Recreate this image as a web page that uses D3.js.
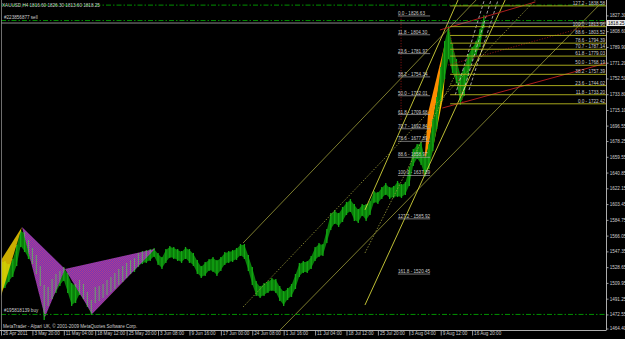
<!DOCTYPE html>
<html>
<head>
<meta charset="UTF-8">
<title>XAUUSD,H4</title>
<script src="https://cdnjs.cloudflare.com/ajax/libs/d3/7.8.5/d3.min.js"></script>
<style>
    html, body { margin: 0; padding: 0; background: #000; }
    svg { display: block; }
    text { font-family: "Liberation Sans", Arial, sans-serif; font-size: 4.6px; fill: #cdcdcd; }
</style>
</head>
<body>
<svg id="chart" width="625" height="339"></svg>
<script>
// H4 bars, one sample every 4 bars (high / low of the sample)
var barHigh = [
    1534.8, 1534.8, 1531.2, 1537.1, 1553.7, 1571.5, 1569.2, 1559.7, 1550.2, 1541.9,
    1528.8, 1506.3, 1503.9, 1513.4, 1519.3, 1522.9, 1527.6, 1520.5, 1508.7, 1507.5,
    1512.2, 1507.5, 1498.0, 1488.5, 1503.9, 1505.1, 1507.5, 1512.2, 1515.8, 1520.5,
    1525.3, 1528.8, 1532.4, 1535.9, 1538.3, 1544.3, 1546.6, 1547.8, 1549.0, 1550.2,
    1544.3, 1539.5, 1549.0, 1552.6, 1551.4, 1549.0, 1546.6, 1551.4, 1549.0, 1544.3,
    1535.9, 1528.8, 1533.6, 1537.1, 1539.5, 1535.9, 1539.5, 1545.4, 1546.6, 1547.8,
    1550.2, 1554.9, 1554.9, 1541.9, 1527.6, 1511.0, 1505.1, 1508.7, 1511.0, 1514.6,
    1513.4, 1505.1, 1499.2, 1502.7, 1507.5, 1519.3, 1532.4, 1534.8, 1534.8, 1540.7,
    1551.4, 1556.1, 1554.9, 1572.7, 1591.7, 1595.3, 1591.7, 1598.8, 1604.8, 1608.3,
    1602.4, 1596.5, 1602.4, 1602.4, 1605.9, 1617.8, 1616.6, 1622.5, 1627.3, 1622.5,
    1623.7, 1629.7, 1626.1, 1628.5, 1646.3, 1667.6, 1673.6, 1675.9, 1658.1, 1673.6,
    1703.2, 1729.3, 1764.9, 1795.7, 1813.96, 1792.2, 1774.4, 1756.6, 1764.9, 1780.3,
    1788.6, 1795.7, 1810.0, 1826.3
];
var barLow = [
    1501.5, 1505.1, 1512.2, 1518.2, 1531.2, 1553.7, 1547.8, 1539.5, 1533.6, 1521.7,
    1507.5, 1467.0, 1483.7, 1492.0, 1499.2, 1507.5, 1513.4, 1499.2, 1483.7, 1487.3,
    1496.8, 1492.0, 1482.5, 1473.1, 1487.3, 1489.7, 1493.2, 1496.8, 1500.3, 1503.9,
    1508.7, 1512.2, 1517.0, 1521.7, 1524.1, 1530.0, 1533.6, 1534.8, 1537.1, 1541.9,
    1532.4, 1527.6, 1534.8, 1540.7, 1539.5, 1537.1, 1534.8, 1539.5, 1534.8, 1531.2,
    1521.7, 1517.0, 1519.3, 1525.3, 1524.1, 1519.3, 1525.3, 1532.4, 1534.8, 1535.9,
    1538.3, 1543.1, 1539.5, 1525.3, 1508.7, 1495.6, 1493.2, 1495.6, 1499.2, 1501.5,
    1499.2, 1489.7, 1483.7, 1490.8, 1494.4, 1503.9, 1518.2, 1522.9, 1522.9, 1527.6,
    1537.1, 1541.9, 1543.1, 1558.5, 1573.9, 1581.0, 1577.5, 1583.4, 1591.7, 1595.3,
    1584.6, 1582.2, 1590.5, 1584.6, 1591.7, 1605.9, 1604.8, 1610.7, 1615.4, 1610.7,
    1611.9, 1613.0, 1611.9, 1615.4, 1626.1, 1649.8, 1658.1, 1651.0, 1637.4, 1646.3,
    1667.6, 1693.7, 1726.9, 1753.0, 1776.7, 1760.1, 1748.3, 1722.4, 1732.9, 1756.6,
    1774.4, 1781.5, 1791.0, 1813.6
];

// time axis (sample index of each label)
var timeTicks = [0, 8, 16, 24, 32, 40, 48, 56, 64, 72, 80, 88, 96, 104, 112, 120];
var timeLabels = ["26 Apr 2011", "3 May 20:00", "11 May 04:00", "18 May 12:00", "25 May 20:00",
    "3 Jun 08:00", "9 Jun 16:00", "17 Jun 00:00", "24 Jun 08:00", "1 Jul 16:00", "11 Jul 04:00",
    "18 Jul 12:00", "25 Jul 20:00", "3 Aug 04:00", "9 Aug 12:00", "16 Aug 20:00"];

// price axis
var priceTicks = [1827.30, 1808.60, 1789.90, 1771.20, 1752.50, 1733.80, 1715.10, 1696.55, 1678.25,
    1659.55, 1640.85, 1622.15, 1603.45, 1584.75, 1566.05, 1547.35, 1528.65, 1509.95, 1491.25, 1472.55];
var priceMin = 1464.40;
var bidPrice = 1818.25;
var header = "XAUUSD,H4  1816.60 1826.30 1813.60 1818.25";

// harmonic pattern points [sample, price]
var purplePts = [[5.35, 1576.3], [11.2, 1469.5], [16.3, 1526.5], [23.2, 1473.1], [39.2, 1550.2]];
var yellowTri = [[-0.4, 1534.0], [-0.4, 1488.0], [5.35, 1576.3]];
var orangeTri = [[107.5, 1634.4], [114.1, 1813.5], [108.8, 1712.0]];
var yellowTri2 = [[109.6, 1660.0], [114.1, 1813.5], [112.6, 1730.0]];

// trend lines [s1, p1, s2, p2]
var oliveLines = [[61.66, 1557.3, 121.0, 1845.5], [71.1, 1454.1, 152.6, 1840.8]];
var oliveDotted = [[61.66, 1481.4, 136.1, 1845.5], [92.7, 1545.4, 115.7, 1756.6]];
var yellowLines = [[92.7, 1483.7, 128.4, 1845.5], [92.7, 1596.5, 116.4, 1845.5]];
var grayDashed = [[115.7, 1732.9, 123.1, 1845.5], [117.5, 1732.9, 124.8, 1845.5], [119.2, 1738.8, 126.6, 1845.5]];
var redLines = [[111.8, 1810.0, 136.1, 1843.2], [112.4, 1717.4, 155.2, 1772.0]];
var redDotted = [[113.9, 1768.4, 155.2, 1821.8], [101.9, 1826.6, 101.9, 1703.2], [114.1, 1813.5, 117.7, 1722.2]];

// fibonacci retracements
var fibLeftLevels = [0.0, 11.8, 23.6, 38.2, 50.0, 61.8, 70.7, 78.6, 88.6, 100.0, 127.2, 161.8];
var fibLeftPrices = [1826.63, 1804.30, 1781.97, 1754.34, 1732.01, 1709.68, 1692.84, 1677.89, 1658.97, 1637.39, 1585.92, 1520.45];
var fibLeftSpan = [101.1, 109.3];
var fibRightLevels = [127.2, 100.0, 88.6, 78.6, 70.7, 61.8, 50.0, 38.2, 23.6, 11.8, 0.0];
var fibRightPrices = [1838.58, 1813.96, 1803.52, 1794.39, 1787.14, 1779.03, 1768.19, 1757.39, 1744.02, 1733.20, 1722.42];
var fibRightStart = 114.4;

// order lines
var orderPrices = [1839.5, 1821.2, 1472.55];
var orderLabels = ["", "#223856877 sell", "#195818139 buy"];

var W = 625, H = 339;
var left = 1, right = 606, bottom = 330;

var x = d3.scaleLinear().domain([0, 154.1]).range([1, 606]);
var y = d3.scaleLinear().domain([1464.4, 1827.3]).range([321.3, 15.4]);

var svg = d3.select("#chart");
svg.append("rect").attr("width", W).attr("height", H).attr("fill", "#000");

var defs = svg.append("defs");
defs.append("clipPath").attr("id", "plotClip").append("rect")
    .attr("x", left).attr("y", 0).attr("width", right - left).attr("height", bottom);

var pat = defs.append("pattern").attr("id", "hatch")
    .attr("width", 2).attr("height", 2).attr("patternUnits", "userSpaceOnUse");
pat.append("rect").attr("width", 2).attr("height", 2).attr("fill", "#7436b8");
pat.append("rect").attr("width", 1).attr("height", 1).attr("fill", "#b03c8c");
pat.append("rect").attr("x", 1).attr("y", 1).attr("width", 1).attr("height", 1).attr("fill", "#b03c8c");

var poly = function (pts) {
    return "M" + pts.map(function (d) { return x(d[0]) + "," + y(d[1]); }).join("L") + "Z";
};
var purpleTris = [[purplePts[0], purplePts[1], purplePts[2]], [purplePts[2], purplePts[3], purplePts[4]]];

var patClip = defs.append("clipPath").attr("id", "patClip");
purpleTris.forEach(function (t) { patClip.append("path").attr("d", poly(t)); });

var g = svg.append("g").attr("clip-path", "url(#plotClip)");

// coloured triangles under the price (right side)
g.append("path").attr("d", poly(orangeTri)).attr("fill", "#ff8c00");
g.append("path").attr("d", poly(yellowTri2)).attr("fill", "#ffc400");

var idx = d3.range(barHigh.length);
var area = d3.area()
    .x(function (i) { return x(i); })
    .y0(function (i) { return y(barLow[i]); })
    .y1(function (i) { return y(barHigh[i]); });

function drawBars(layer, barCol, width) {
    layer.selectAll("line.bar").data(idx).enter().append("line")
        .attr("class", "bar")
        .attr("x1", function (i) { return x(i); })
        .attr("x2", function (i) { return x(i); })
        .attr("y1", function (i) { return y(barHigh[i]) - 1; })
        .attr("y2", function (i) { return y(barLow[i]) + 1; })
        .attr("stroke", barCol).attr("stroke-width", width);
}
var priceG = g.append("g");
priceG.append("path").datum(idx).attr("d", area).attr("fill", "#0a7e0a");
drawBars(priceG, "#14a814", 1.3);

// left yellow leg, mostly covering the price
g.append("path").attr("d", poly(yellowTri)).attr("fill", "#ffd800").attr("fill-opacity", 0.8);

// harmonic pattern over the price, price shows through in grey-green
purpleTris.forEach(function (t) {
    g.append("path").attr("d", poly(t)).attr("fill", "url(#hatch)");
});
drawBars(g.append("g").attr("clip-path", "url(#patClip)"), "#6c9a72", 1.1);

// trend lines
function drawLines(list, col, width, dash) {
    list.forEach(function (l) {
        g.append("line")
            .attr("x1", x(l[0])).attr("y1", y(l[1]))
            .attr("x2", x(l[2])).attr("y2", y(l[3]))
            .attr("stroke", col).attr("stroke-width", width)
            .attr("stroke-dasharray", dash);
    });
}
drawLines(oliveLines, "#9c9c3a", 0.8, null);
drawLines(oliveDotted, "#9c9c3a", 0.8, "1.5,1.5");
drawLines(yellowLines, "#d4d43a", 0.9, null);
drawLines(grayDashed, "#c8c8c8", 0.8, "3,2");
drawLines(redLines, "#c02020", 0.9, null);
drawLines(redDotted, "#a01818", 0.8, "1.2,1.5");

// order lines
orderPrices.forEach(function (p, i) {
    g.append("line")
        .attr("x1", left).attr("x2", right)
        .attr("y1", y(p)).attr("y2", y(p))
        .attr("stroke", "#00a000").attr("stroke-width", 0.9)
        .attr("stroke-dasharray", "5,2,1.5,2");
    if (orderLabels[i]) {
        svg.append("text").attr("x", 4).attr("y", y(p) - 2).text(orderLabels[i]);
    }
});

// bid line
g.append("line").attr("x1", left).attr("x2", right)
    .attr("y1", y(bidPrice)).attr("y2", y(bidPrice))
    .attr("stroke", "#9a9a9a").attr("stroke-width", 0.9);

// fibonacci (left, short)
fibLeftPrices.forEach(function (p, i) {
    g.append("line")
        .attr("x1", x(fibLeftSpan[0])).attr("x2", x(fibLeftSpan[1]))
        .attr("y1", y(p)).attr("y2", y(p))
        .attr("stroke", "#a8a8a8").attr("stroke-width", 0.7);
    svg.append("text").attr("x", x(fibLeftSpan[0])).attr("y", y(p) - 1)
        .text(fibLeftLevels[i].toFixed(1) + " - " + p.toFixed(2));
});

// fibonacci (right, extended)
fibRightPrices.forEach(function (p, i) {
    g.append("line")
        .attr("x1", x(fibRightStart)).attr("x2", right)
        .attr("y1", y(p)).attr("y2", y(p))
        .attr("stroke", "#b8b81e").attr("stroke-width", 0.9);
    svg.append("text").attr("x", right - 1).attr("y", y(p) - 1)
        .attr("text-anchor", "end")
        .text(fibRightLevels[i].toFixed(1) + " - " + p.toFixed(2));
});

// frame
svg.append("line").attr("x1", 1.5).attr("x2", 1.5).attr("y1", 0).attr("y2", bottom)
    .attr("stroke", "#8a8a8a").attr("stroke-width", 0.8);
svg.append("line").attr("x1", 0).attr("x2", right).attr("y1", bottom + 0.5).attr("y2", bottom + 0.5)
    .attr("stroke", "#c0c0c0").attr("stroke-width", 0.9);
svg.append("line").attr("x1", right + 0.5).attr("x2", right + 0.5).attr("y1", 0).attr("y2", bottom + 0.5)
    .attr("stroke", "#c0c0c0").attr("stroke-width", 0.9);

// price axis
var yAxis = d3.axisRight(y).tickValues(priceTicks)
    .tickFormat(d3.format(".2f")).tickSize(2).tickPadding(1.2);
var ya = svg.append("g").attr("transform", "translate(" + (right + 0.5) + ",0)").call(yAxis);
ya.select(".domain").remove();
ya.attr("font-size", null).attr("font-family", null);
ya.selectAll("line").attr("stroke", "#c0c0c0").attr("stroke-width", 0.8);
ya.selectAll("text").attr("fill", "#cdcdcd");
svg.append("line").attr("x1", right + 0.5).attr("x2", right + 2.5)
    .attr("y1", bottom - 1).attr("y2", bottom - 1).attr("stroke", "#c0c0c0").attr("stroke-width", 0.8);
svg.append("text").attr("x", right + 3.7).attr("y", bottom - 1).attr("dy", "0.32em")
    .text(d3.format(".2f")(priceMin));

// bid label
svg.append("rect").attr("x", right + 1).attr("y", y(bidPrice) - 3).attr("width", 18).attr("height", 6)
    .attr("fill", "#ececec");
svg.append("text").attr("x", right + 2).attr("y", y(bidPrice)).attr("dy", "0.34em")
    .style("fill", "#000").text(d3.format(".2f")(bidPrice));

// time axis
var xAxis = d3.axisBottom(x).tickValues(timeTicks)
    .tickFormat(function (d, i) { return timeLabels[i]; }).tickSize(5);
var xa = svg.append("g").attr("transform", "translate(0," + (bottom + 0.5) + ")").call(xAxis);
xa.select(".domain").remove();
xa.attr("font-size", null).attr("font-family", null);
xa.selectAll("line").attr("stroke", "#c0c0c0").attr("stroke-width", 0.8);
xa.selectAll("text").attr("text-anchor", "start").attr("x", 1.5).attr("y", 1.4).attr("fill", "#cdcdcd");

// header and footer
svg.append("text").attr("x", 2).attr("y", 7).text(header);
svg.append("text").attr("x", 3).attr("y", 327.5)
    .text("MetaTrader - Alpari UK, \u00a9 2001-2009 MetaQuotes Software Corp.");
</script>
</body>
</html>
